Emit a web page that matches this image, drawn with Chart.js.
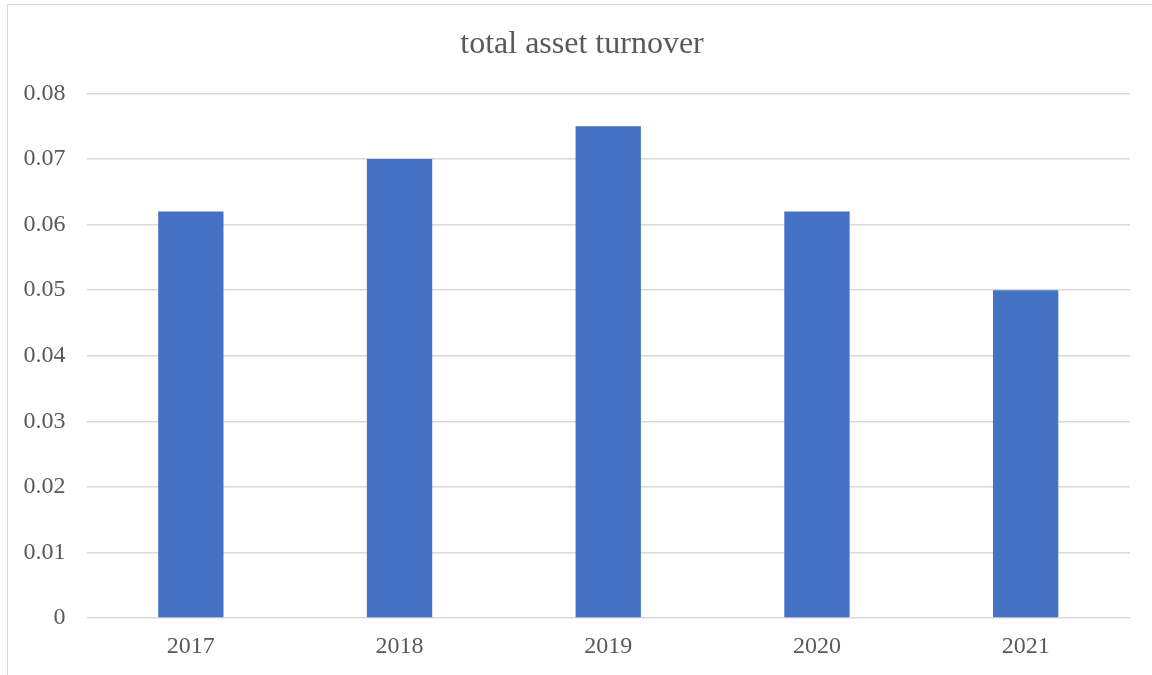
<!DOCTYPE html>
<html>
<head>
<meta charset="utf-8">
<script src="https://cdn.jsdelivr.net/npm/chart.js@4"></script>
<style>
    html, body { margin: 0; padding: 0; background: #fff; overflow: hidden; }
    #marco {
        position: absolute; left: 7px; top: 4px;
        width: 1160px; height: 690px;
        border: 1.5px solid #d9d9d9;
    }
    #grafico { position: absolute; left: 0; top: 0; }
</style>
</head>
<body>
<div id="marco"></div>
<canvas id="grafico" width="1152" height="675"></canvas>
<script>
// Datos del gráfico
const anios = ['2017', '2018', '2019', '2020', '2021'];
const rotacion = [0.062, 0.070, 0.075, 0.062, 0.050];
const titulo = 'total asset turnover';

const fuente = '"Liberation Serif", "Times New Roman", serif';
const gris = '#595959';

const ctx = document.getElementById('grafico');

// Título centrado sobre el marco (no sobre el área del gráfico)
const tituloMarco = {
    id: 'tituloMarco',
    afterDraw(chart) {
        const c = chart.ctx;
        c.save();
        c.fillStyle = gris;
        c.font = '32px ' + fuente;
        c.textAlign = 'center';
        c.textBaseline = 'middle';
        c.fillText(titulo, 582, 45);
        c.restore();
    }
};

const config = {
    type: 'bar',
    data: {
        labels: anios,
        datasets: [{
            label: titulo,
            data: rotacion,
            backgroundColor: '#4472C4',
            borderWidth: 0,
            categoryPercentage: 1,
            barPercentage: 0.313
        }]
    },
    options: {
        responsive: false,
        animation: false,
        layout: {
            padding: { left: 0, right: 22, top: 93.5, bottom: 7 }
        },
        plugins: {
            legend: { display: false },
            tooltip: { enabled: false },
            title: { display: false }
        },
        scales: {
            x: {
                grid: { display: false, drawTicks: false },
                border: { display: false },
                ticks: {
                    color: gris,
                    padding: 14,
                    font: { family: fuente, size: 24 }
                },
                afterFit: function(escala) { escala.height = 50; }
            },
            y: {
                min: 0,
                max: 0.08,
                grid: { color: '#d9d9d9', lineWidth: 1.5, drawTicks: false },
                border: { display: false },
                ticks: {
                    stepSize: 0.01,
                    color: gris,
                    padding: 21,
                    font: { family: fuente, size: 24 },
                    callback: function(valor) {
                        return valor === 0 ? '0' : valor.toFixed(2);
                    }
                },
                afterFit: function(escala) { escala.width = 86.5; }
            }
        }
    },
    plugins: [tituloMarco]
};

// Crear el gráfico
new Chart(ctx, config);
</script>
</body>
</html>
